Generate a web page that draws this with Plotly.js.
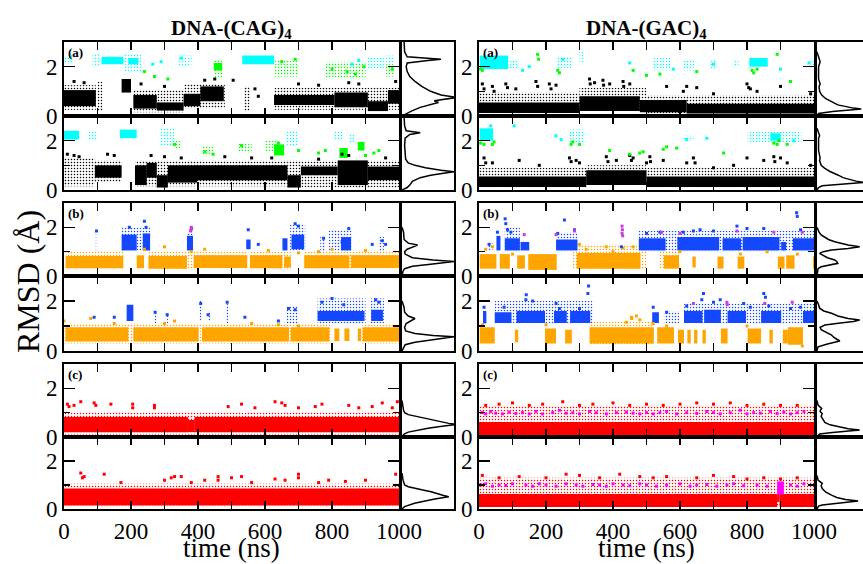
<!DOCTYPE html>
<html><head><meta charset="utf-8">
<script src="https://cdn.plot.ly/plotly-3.0.1.min.js"></script>
<style>body{margin:0;background:#fff}#chart{width:863px;height:564px}</style>
</head><body><div id="chart"></div>
<script>
// ---------------- DATA ----------------
// segments: [t0 (ns), t1 (ns), RMSD low, RMSD high]; points: [t (ns), RMSD]
const timeTicks = [0, 200, 400, 600, 800, 1000];
const timeTickText = ['0', '200', '400', '600', '800', '1000'];
const rmsdTicks = [0, 2];
const rmsdTickText = ['0', '2'];
const columnTitles = ['DNA-(CAG)<sub>4</sub>', 'DNA-(GAC)<sub>4</sub>'];
const panelLabels = ['(a)', '(b)', '(c)'];

// ===== DNA-(CAG)4, (a) top =====
const cagA1BlackDense = [[0,95,0.4,1.05],[172,200,0.95,1.5],[207,277,0.3,0.85],[277,357,0.22,0.55],[357,407,0.4,0.9],[407,477,0.6,1.2],[627,807,0.45,0.85],[807,907,0.35,0.95],[907,967,0.2,0.6],[967,1000,0.5,1.05]];
const cagA1BlackSparse = [[0,95,0.25,1.25],[100,115,0.2,1.4],[207,357,0.15,1.05],[357,480,0.3,1.3],[538,556,0.2,1.2],[627,1000,0.25,1.15]];
const cagA1CyanDense = [[112,177,2.1,2.4],[192,222,2.1,2.35],[532,627,2.1,2.45]];
const cagA1CyanSparse = [[0,25,2.1,2.4],[85,110,2.0,2.5],[177,230,1.8,2.5],[340,380,2.0,2.45],[905,955,1.9,2.4],[962,985,2.1,2.45]];
const cagA1GreenDense = [[447,472,1.85,2.15]];
const cagA1GreenSparse = [[447,475,1.5,2.3],[630,700,1.6,2.3],[780,900,1.5,2.2],[960,985,1.6,2.1]];
const cagA1BlackPts = [[505,1.45],[570,1.1],[580,0.8],[30,1.4],[60,1.35],[230,1.3],[300,1.2],[420,1.45],[450,1.5],[700,1.3],[760,1.25],[850,1.35],[880,1.3],[990,1.4]];
const cagA1CyanPts = [[20,2.4],[265,2.1],[290,2.2],[350,2.35],[860,2.1],[880,2.25]];
const cagA1GreenPts = [[240,1.8],[270,1.6],[310,1.5],[650,2.2],[690,2.3],[800,1.9],[845,1.8],[870,1.7],[895,2.0],[980,1.9]];

// ===== DNA-(CAG)4, (a) bottom =====
const cagA2BlackDense = [[92,172,0.5,1.0],[212,247,0.2,1.0],[247,277,0.5,1.1],[277,310,0.1,0.6],[310,397,0.3,1.0],[397,667,0.4,1.0],[667,707,0.1,0.6],[707,817,0.6,0.95],[817,907,0.2,1.2],[907,1000,0.4,0.95]];
const cagA2BlackSparse = [[0,92,0.15,1.3],[92,172,0.3,1.2],[212,667,0.15,1.2],[667,1000,0.1,1.2]];
const cagA2BlackPts = [[10,1.45],[30,1.4],[45,1.35],[130,1.45],[150,1.4],[260,1.4],[300,1.35],[350,1.3],[480,1.35],[560,1.3],[620,1.3],[760,1.25],[830,1.45],[850,1.4],[960,1.3]];
const cagA2CyanDense = [[0,45,2.05,2.4],[167,217,2.1,2.45]];
const cagA2CyanSparse = [[70,97,2.0,2.4],[285,330,1.8,2.5],[665,700,1.8,2.4],[805,830,2.0,2.4],[850,870,1.9,2.3]];
const cagA2GreenDense = [[627,657,1.4,1.85],[822,847,1.3,1.7],[877,897,1.6,1.95]];
const cagA2GreenSparse = [[330,350,1.7,2.0],[410,450,1.4,1.8],[520,560,1.5,1.9],[600,640,1.5,2.0]];
const cagA2GreenPts = [[330,1.85],[420,1.55],[445,1.45],[530,1.8],[640,1.9],[700,1.6],[760,1.5],[780,1.6],[900,1.4],[925,1.5],[940,1.6]];

// ===== DNA-(CAG)4, (b) top =====
const cagB1OrangeDense = [[5,177,0.32,0.82],[217,239,0.32,0.85],[252,367,0.3,0.82],[387,547,0.33,0.85],[555,652,0.32,0.85],[657,677,0.35,0.8],[717,852,0.32,0.85],[857,1002,0.33,0.85]];
const cagB1OrangeSparse = [[5,177,0.25,1.05],[252,547,0.25,1.05],[555,677,0.25,1.0],[717,1000,0.25,1.05]];
const cagB1BlueDense = [[172,217,1.05,1.7],[235,257,1.05,1.75],[367,385,1.05,1.65],[544,557,1.1,1.5],[652,667,1.05,1.55],[679,717,1.1,1.7],[827,857,1.05,1.6]];
const cagB1BlueSparse = [[95,100,1.0,1.85],[172,257,1.05,2.0],[367,387,1.0,1.8],[675,720,1.05,2.1],[765,780,1.0,1.65],[790,860,1.05,1.9],[940,955,1.0,1.6]];
const cagB1BluePts = [[97,1.85],[195,2.0],[240,2.25],[245,2.0],[550,1.9],[580,1.3],[690,2.15],[700,2.05],[775,1.55],[830,1.4],[850,1.95],[920,1.3],[950,1.45],[960,1.3]];
const cagB1VioletPts = [[378,1.85],[380,2.0],[381,1.95],[379,1.9]];
const cagB1OrangePts = [[240,1.1],[300,1.2],[380,1.0],[420,1.1],[610,1.05],[700,0.95],[760,1.0],[800,1.1],[900,1.05]];

// ===== DNA-(CAG)4, (b) bottom =====
const cagB2OrangeDense = [[5,192,0.38,0.95],[207,402,0.38,0.95],[412,672,0.38,0.95],[677,792,0.38,0.95],[807,822,0.4,0.9],[837,852,0.4,0.9],[877,887,0.4,0.9],[892,1002,0.38,0.95]];
const cagB2OrangeSparse = [[0,800,0.3,1.1],[890,1000,0.3,1.05]];
const cagB2BlueDense = [[187,207,1.2,1.85],[757,897,1.2,1.6],[917,952,1.2,1.65]];
const cagB2BlueSparse = [[270,275,1.1,1.6],[305,310,1.1,1.5],[405,410,1.2,2.0],[430,436,1.2,1.6],[485,490,1.1,2.0],[665,700,1.1,1.8],[757,900,1.1,2.1],[915,955,1.1,2.1]];
const cagB2BluePts = [[90,1.35],[150,1.35],[272,1.55],[308,1.45],[408,1.9],[430,1.45],[487,1.95],[540,1.35],[640,1.2],[670,1.7],[690,1.65],[770,1.95],[800,2.1],[835,1.85],[930,2.05],[940,1.95]];
const cagB2OrangePts = [[0,1.2],[80,1.3],[150,1.1],[300,1.1],[330,1.2],[560,1.1],[640,1.05],[700,1.0]];

// ===== DNA-(CAG)4, (c) =====
const cagC1RedDense = [[0,370,0.2,0.82],[370,390,0.2,0.7],[390,1000,0.2,0.82]];
const cagC1RedSparse = [[0,1000,0.1,1.05]];
const cagC1RedPts = [[10,1.35],[15,1.25],[30,1.3],[50,1.45],[90,1.4],[95,1.3],[140,1.35],[205,1.35],[205,1.2],[270,1.3],[270,1.2],[490,1.25],[530,1.35],[570,1.2],[630,1.45],[650,1.4],[660,1.3],[700,1.2],[750,1.25],[770,1.35],[850,1.3],[880,1.2],[920,1.25],[950,1.4],[980,1.2],[995,1.45]];
const cagC2RedDense = [[0,1000,0.15,0.85]];
const cagC2RedSparse = [[0,1000,0.08,1.05]];
const cagC2RedPts = [[50,1.5],[55,1.3],[60,1.35],[120,1.45],[170,1.1],[300,1.2],[320,1.3],[330,1.35],[350,1.35],[380,1.1],[420,1.2],[460,1.35],[460,1.2],[500,1.3],[530,1.35],[560,1.1],[630,1.25],[660,1.2],[700,1.45],[700,1.3],[760,1.1],[790,1.2],[840,1.15],[900,1.2],[990,1.45]];

// ===== DNA-(GAC)4, (a) top =====
const gacA1BlackDense = [[0,300,0.12,0.55],[300,480,0.2,0.8],[480,620,0.15,0.65],[620,1000,0.1,0.5]];
const gacA1BlackSparse = [[0,300,0.1,0.95],[300,500,0.2,1.15],[500,1000,0.1,0.85]];
const gacA1BlackPts = [[10,1.3],[15,1.1],[40,1.2],[45,1.0],[80,1.3],[85,1.15],[110,1.1],[170,1.4],[175,1.2],[210,1.3],[215,1.1],[230,1.25],[330,1.5],[332,1.3],[345,1.35],[370,1.45],[372,1.25],[390,1.3],[430,1.4],[432,1.2],[450,1.3],[560,1.2],[610,1.0],[620,1.2],[650,1.15],[700,0.9],[800,1.3],[805,1.15],[810,1.1],[830,1.0],[900,1.2],[990,0.9]];
const gacA1CyanDense = [[2,87,1.9,2.45],[807,862,2.0,2.35]];
const gacA1CyanSparse = [[87,115,1.9,2.3],[230,280,1.95,2.4],[300,312,2.1,2.6],[517,572,1.85,2.35],[612,642,1.85,2.3],[690,710,1.9,2.3],[760,775,2.0,2.3],[990,1002,2.0,2.3]];
const gacA1CyanPts = [[130,1.85],[150,2.0],[250,2.3],[450,2.15],[580,1.9],[700,2.1],[900,1.9],[985,2.15]];
const gacA1GreenPts = [[5,1.9],[10,1.85],[175,2.5],[178,2.3],[235,1.85],[240,1.75],[460,1.85],[500,1.65],[540,1.7],[650,1.8],[815,1.85],[820,1.75],[830,1.9],[890,2.5],[930,1.4]];

// ===== DNA-(GAC)4, (a) bottom =====
const gacA2BlackDense = [[0,320,0.12,0.55],[320,500,0.2,0.8],[500,1000,0.12,0.55]];
const gacA2BlackSparse = [[0,320,0.1,0.9],[320,500,0.2,1.0],[500,1000,0.1,0.9]];
const gacA2BlackPts = [[15,1.3],[20,1.1],[40,1.1],[120,1.2],[180,1.0],[270,1.3],[275,1.15],[290,1.2],[300,1.1],[380,1.35],[385,1.15],[410,1.2],[450,1.4],[455,1.2],[460,1.3],[500,1.1],[510,1.35],[512,1.15],[550,1.2],[620,1.1],[640,1.3],[645,1.1],[700,0.9],[760,1.0],[800,1.3],[850,1.2],[880,1.35],[883,1.15],[900,1.3],[920,1.1],[990,1.0]];
const gacA2CyanDense = [[2,42,2.0,2.5],[870,900,2.0,2.3]];
const gacA2CyanSparse = [[267,317,1.9,2.45],[605,640,2.0,2.2],[802,962,1.95,2.35]];
const gacA2CyanPts = [[35,2.6],[105,2.6],[230,2.2],[245,2.05],[620,2.05],[680,2.1],[940,2.0]];
const gacA2GreenPts = [[5,1.9],[15,1.85],[40,1.85],[45,1.95],[275,1.85],[280,1.95],[300,1.85],[390,1.6],[450,1.45],[480,1.5],[490,1.55],[550,1.65],[560,1.75],[590,1.7],[730,1.5],[880,1.9],[890,1.85],[895,2.0],[920,1.85]];

// ===== DNA-(GAC)4, (b) top =====
const gacB1OrangeDense = [[2,52,0.3,0.9],[62,92,0.3,0.9],[114,137,0.3,0.85],[147,232,0.25,0.9],[292,482,0.3,0.95],[552,597,0.3,0.85],[637,647,0.35,0.8],[712,730,0.3,0.8],[772,792,0.3,0.8],[892,912,0.3,0.8],[917,942,0.3,0.85],[997,1002,0.3,0.8]];
const gacB1OrangeSparse = [[280,500,0.25,1.3],[540,600,0.3,1.05]];
const gacB1OrangePts = [[20,1.1],[40,1.2],[100,0.9],[300,1.3],[320,1.1],[380,1.2],[400,1.0],[430,1.15],[460,1.2],[600,1.0],[780,0.9],[860,1.0],[950,0.9]];
const gacB1BlueDense = [[52,64,1.05,1.65],[77,122,1.05,1.55],[124,150,1.05,1.4],[230,294,1.05,1.5],[477,557,1.05,1.55],[592,717,1.05,1.6],[727,782,1.05,1.55],[787,897,1.05,1.6],[902,917,1.05,1.4],[937,1002,1.05,1.55]];
const gacB1BlueSparse = [[27,40,1.0,1.4],[77,122,1.0,2.0],[230,294,1.0,1.8],[477,1002,1.0,1.85]];
const gacB1BluePts = [[30,1.3],[55,1.8],[78,2.35],[80,2.15],[85,1.9],[95,1.8],[235,1.75],[255,2.3],[285,1.9],[425,1.2],[500,1.75],[540,1.8],[610,1.8],[640,1.85],[660,1.9],[700,1.85],[770,2.05],[800,1.95],[850,1.95],[948,2.6],[950,2.45],[960,1.9]];
const gacB1VioletPts = [[135,1.7],[230,1.7],[285,1.85],[427,1.75],[428,1.9],[427,2.05],[429,1.65],[545,1.8],[600,1.75],[770,1.85],[880,1.8],[965,1.8]];

// ===== DNA-(GAC)4, (b) bottom =====
const gacB2OrangeDense = [[2,47,0.3,0.95],[107,117,0.35,0.85],[197,230,0.3,0.9],[257,277,0.3,0.85],[330,522,0.3,0.95],[532,582,0.3,0.95],[594,612,0.3,0.85],[622,632,0.3,0.85],[642,652,0.3,0.85],[667,677,0.3,0.85],[722,742,0.3,0.9],[802,842,0.3,0.9],[867,877,0.3,0.85],[907,922,0.3,0.85],[922,967,0.25,0.95]];
const gacB2OrangeSparse = [[330,522,0.25,1.2]];
const gacB2OrangePts = [[10,1.05],[200,1.05],[440,1.15],[455,1.35],[456,1.3],[470,1.4],[480,1.25],[520,1.1],[560,1.0],[800,1.0],[965,0.2]];
const gacB2BlueDense = [[12,22,1.1,1.6],[47,97,1.12,1.55],[112,197,1.12,1.6],[224,262,1.12,1.6],[272,332,1.12,1.6],[517,537,1.12,1.55],[612,667,1.12,1.6],[672,722,1.12,1.65],[742,797,1.12,1.6],[842,902,1.12,1.6],[967,1002,1.12,1.6]];
const gacB2BlueSparse = [[47,340,1.1,2.0],[552,597,1.1,1.6],[612,1000,1.1,1.9]];
const gacB2BluePts = [[15,1.75],[75,1.75],[140,2.05],[141,2.25],[160,2.0],[230,1.9],[240,1.7],[300,1.7],[327,2.6],[325,2.3],[520,1.75],[560,1.55],[620,1.8],[665,2.05],[670,2.3],[700,1.95],[720,2.05],[790,1.9],[810,1.75],[850,2.3],[855,2.15],[865,1.8],[930,1.7],[960,1.75]];
const gacB2VioletPts = [[640,1.9],[740,1.95],[741,1.85],[853,1.9],[935,1.95]];

// ===== DNA-(GAC)4, (c) =====
const gacC1RedDense = [[0,1000,0.08,0.62]];
const gacC1RedSparse = [[0,1000,0.08,1.3]];
const gacC1RedPts = [[20,1.3],[60,1.35],[100,1.4],[150,1.3],[190,1.35],[250,1.45],[300,1.3],[340,1.35],[400,1.4],[450,1.3],[500,1.35],[550,1.3],[600,1.35],[650,1.4],[700,1.35],[750,1.4],[800,1.3],[850,1.35],[900,1.3],[950,1.3]];
const gacC1MagentaPts = [[10,1.0],[20,0.95],[35,1.05],[50,0.98],[70,0.95],[90,1.02],[110,0.97],[130,1.0],[150,0.95],[170,1.05],[190,0.95],[220,1.0],[240,1.1],[260,0.98],[280,1.0],[300,0.95],[330,1.05],[350,1.0],[380,0.95],[410,1.0],[440,1.02],[460,0.98],[480,0.95],[500,1.0],[520,0.95],[540,1.0],[560,1.05],[590,0.95],[620,1.0],[650,0.97],[680,1.05],[700,1.0],[720,0.95],[750,1.0],[780,1.1],[800,0.95],[820,1.0],[840,0.98],[870,1.05],[890,0.97],[910,1.02],[930,0.95],[950,1.0],[970,1.05]];
const gacC2RedDense = [[0,890,0.08,0.62],[890,897,0.3,0.62],[897,1000,0.08,0.62]];
const gacC2RedSparse = [[0,1000,0.08,1.3]];
const gacC2RedPts = [[10,1.4],[60,1.3],[120,1.35],[200,1.3],[260,1.45],[300,1.4],[360,1.3],[420,1.45],[480,1.35],[520,1.3],[560,1.35],[650,1.3],[700,1.4],[760,1.35],[800,1.25],[850,1.3],[900,1.25],[950,1.3]];
const gacC2MagentaDense = [[890,910,0.6,1.15]];
const gacC2MagentaPts = [[5,1.0],[20,1.05],[40,0.95],[60,1.0],[80,0.98],[100,1.05],[140,1.0],[160,0.95],[180,1.05],[200,1.0],[230,0.95],[260,1.05],[290,1.0],[310,0.95],[340,1.02],[360,1.0],[380,0.95],[400,1.05],[430,1.0],[450,0.97],[480,1.05],[500,1.0],[530,0.95],[560,1.0],[600,1.05],[630,0.95],[650,1.0],[680,1.02],[710,0.95],[740,1.0],[760,1.05],[790,0.97],[830,1.0],[860,0.95],[930,1.0],[950,0.95],[970,1.05]];

// ===== RMSD distributions (side panels): RMSD levels and relative density =====
const cagA1HistR = [0,0.1,0.2,0.35,0.45,0.55,0.62,0.7,0.75,0.85,1.0,1.2,1.4,1.6,1.8,2.0,2.15,2.25,2.3,2.4,2.6,3.0];
const cagA1HistD = [0,0.08,0.18,0.35,0.55,0.7,0.62,0.9,1.05,0.75,0.55,0.38,0.25,0.15,0.1,0.08,0.1,0.5,0.75,0.1,0.05,0.04];
const cagA2HistR = [0,0.1,0.2,0.35,0.5,0.6,0.68,0.74,0.8,0.9,1.0,1.1,1.25,1.5,1.8,2.1,2.25,2.32,2.4,2.6,3.0];
const cagA2HistD = [0,0.1,0.15,0.2,0.35,0.55,0.8,1.0,0.75,0.45,0.25,0.12,0.07,0.06,0.05,0.06,0.15,0.35,0.08,0.05,0.04];
const cagB1HistR = [0,0.2,0.3,0.4,0.48,0.55,0.6,0.66,0.75,0.9,1.0,1.1,1.2,1.27,1.35,1.5,1.8,2.0];
const cagB1HistD = [0,0.02,0.05,0.2,0.55,0.9,1.0,0.6,0.2,0.06,0.05,0.1,0.22,0.3,0.12,0.04,0.03,0];
const cagB2HistR = [0,0.15,0.25,0.35,0.45,0.52,0.57,0.62,0.7,0.8,0.95,1.1,1.2,1.3,1.4,1.55,1.75,2.0];
const cagB2HistD = [0,0.03,0.06,0.25,0.6,0.9,1.0,0.6,0.25,0.07,0.05,0.08,0.18,0.25,0.12,0.05,0.04,0];
const cagC1HistR = [0,0.12,0.2,0.29,0.36,0.42,0.48,0.52,0.56,0.63,0.7,0.77,0.85,0.92,1.0,1.1,1.5];
const cagC1HistD = [0,0.04,0.12,0.3,0.5,0.7,0.9,1.05,0.9,0.75,0.6,0.44,0.25,0.12,0.05,0.03,0];
const cagC2HistR = [0,0.1,0.24,0.35,0.42,0.47,0.51,0.56,0.64,0.72,0.8,0.86,0.93,1.0,1.2,1.5];
const cagC2HistD = [0,0.05,0.24,0.45,0.63,0.78,0.9,0.8,0.68,0.56,0.38,0.24,0.12,0.05,0.02,0];
const gacA1HistR = [0,0.1,0.18,0.24,0.28,0.32,0.38,0.45,0.58,0.7,0.85,1.0,1.2,1.3,1.5,2.0,2.2,2.3,2.4,2.6];
const gacA1HistD = [0,0.03,0.3,0.65,0.85,0.7,0.53,0.4,0.28,0.17,0.09,0.05,0.04,0.06,0.03,0.03,0.06,0.05,0.03,0];
const gacA2HistR = [0,0.1,0.17,0.24,0.31,0.36,0.41,0.5,0.61,0.75,0.88,1.0,1.2,1.3,1.6,2.1,2.2,2.3,2.5];
const gacA2HistD = [0,0.03,0.1,0.5,0.9,0.75,0.66,0.5,0.4,0.25,0.15,0.08,0.05,0.06,0.03,0.03,0.05,0.03,0];
const gacB1HistR = [0,0.3,0.38,0.45,0.52,0.6,0.66,0.75,0.85,0.93,1.0,1.07,1.13,1.2,1.27,1.35,1.41,1.5,1.6,1.69,1.8,2.0];
const gacB1HistD = [0,0.02,0.08,0.25,0.4,0.38,0.34,0.2,0.1,0.05,0.12,0.28,0.6,0.82,0.6,0.42,0.34,0.22,0.13,0.08,0.04,0];
const gacB2HistR = [0,0.17,0.28,0.35,0.4,0.47,0.55,0.64,0.75,0.85,0.95,1.04,1.12,1.18,1.24,1.3,1.4,1.51,1.6,1.71,1.85,2.0];
const gacB2HistD = [0,0.02,0.2,0.38,0.44,0.38,0.32,0.28,0.18,0.08,0.06,0.15,0.45,0.7,0.82,0.6,0.4,0.28,0.13,0.05,0.03,0];
const gacC1HistR = [0,0.12,0.18,0.24,0.29,0.34,0.42,0.5,0.6,0.75,0.85,0.97,1.05,1.12,1.18,1.25,1.31,1.5];
const gacC1HistD = [0,0.05,0.3,0.65,0.82,0.6,0.4,0.25,0.15,0.1,0.08,0.1,0.06,0.07,0.09,0.05,0.02,0];
const gacC2HistR = [0,0.12,0.17,0.25,0.33,0.4,0.48,0.58,0.7,0.85,0.97,1.07,1.15,1.21,1.4];
const gacC2HistD = [0,0.03,0.1,0.45,0.79,0.55,0.38,0.28,0.17,0.1,0.08,0.1,0.06,0.02,0];

// ---------------- STYLE / LAYOUT ----------------
const W = 863, H = 564;
const C = {black:'#000000', cyan:'#00ffff', green:'#00ff00', orange:'#ffa500', blue:'#1448ff', violet:'#c83ce0', red:'#ff0000', magenta:'#ff00ff'};
const rowsPx = [[42,116],[116,190],[203,276],[276,351],[364,437],[437,509]];
const mainXPx = [[64,399],[479,814]];
const histXPx = [[402,454],[817,863]];
const FONT = '"Liberation Serif", serif';

const panels = [
  [0,0,[[cagA1BlackSparse,C.black,1],[cagA1BlackDense,C.black,0],[cagA1CyanSparse,C.cyan,1],[cagA1CyanDense,C.cyan,0],[cagA1GreenSparse,C.green,1],[cagA1GreenDense,C.green,0]],[[cagA1BlackPts,C.black],[cagA1CyanPts,C.cyan],[cagA1GreenPts,C.green]],cagA1HistR,cagA1HistD],
  [0,1,[[cagA2BlackSparse,C.black,1],[cagA2BlackDense,C.black,0],[cagA2CyanSparse,C.cyan,1],[cagA2CyanDense,C.cyan,0],[cagA2GreenSparse,C.green,1],[cagA2GreenDense,C.green,0]],[[cagA2BlackPts,C.black],[cagA2GreenPts,C.green]],cagA2HistR,cagA2HistD],
  [0,2,[[cagB1OrangeSparse,C.orange,1],[cagB1OrangeDense,C.orange,0],[cagB1BlueSparse,C.blue,1],[cagB1BlueDense,C.blue,0]],[[cagB1OrangePts,C.orange],[cagB1BluePts,C.blue],[cagB1VioletPts,C.violet]],cagB1HistR,cagB1HistD],
  [0,3,[[cagB2OrangeSparse,C.orange,1],[cagB2OrangeDense,C.orange,0],[cagB2BlueSparse,C.blue,1],[cagB2BlueDense,C.blue,0]],[[cagB2OrangePts,C.orange],[cagB2BluePts,C.blue]],cagB2HistR,cagB2HistD],
  [0,4,[[cagC1RedSparse,C.red,1],[cagC1RedDense,C.red,0]],[[cagC1RedPts,C.red]],cagC1HistR,cagC1HistD],
  [0,5,[[cagC2RedSparse,C.red,1],[cagC2RedDense,C.red,0]],[[cagC2RedPts,C.red]],cagC2HistR,cagC2HistD],
  [1,0,[[gacA1BlackSparse,C.black,1],[gacA1BlackDense,C.black,0],[gacA1CyanSparse,C.cyan,1],[gacA1CyanDense,C.cyan,0]],[[gacA1BlackPts,C.black],[gacA1CyanPts,C.cyan],[gacA1GreenPts,C.green]],gacA1HistR,gacA1HistD],
  [1,1,[[gacA2BlackSparse,C.black,1],[gacA2BlackDense,C.black,0],[gacA2CyanSparse,C.cyan,1],[gacA2CyanDense,C.cyan,0]],[[gacA2BlackPts,C.black],[gacA2CyanPts,C.cyan],[gacA2GreenPts,C.green]],gacA2HistR,gacA2HistD],
  [1,2,[[gacB1OrangeSparse,C.orange,1],[gacB1OrangeDense,C.orange,0],[gacB1BlueSparse,C.blue,1],[gacB1BlueDense,C.blue,0]],[[gacB1OrangePts,C.orange],[gacB1BluePts,C.blue],[gacB1VioletPts,C.violet]],gacB1HistR,gacB1HistD],
  [1,3,[[gacB2OrangeSparse,C.orange,1],[gacB2OrangeDense,C.orange,0],[gacB2BlueSparse,C.blue,1],[gacB2BlueDense,C.blue,0]],[[gacB2OrangePts,C.orange],[gacB2BluePts,C.blue],[gacB2VioletPts,C.violet]],gacB2HistR,gacB2HistD],
  [1,4,[[gacC1RedSparse,C.red,1],[gacC1RedDense,C.red,0]],[[gacC1RedPts,C.red],[gacC1MagentaPts,C.magenta]],gacC1HistR,gacC1HistD],
  [1,5,[[gacC2RedSparse,C.red,1],[gacC2RedDense,C.red,0],[gacC2MagentaDense,C.magenta,0]],[[gacC2RedPts,C.red],[gacC2MagentaPts,C.magenta]],gacC2HistR,gacC2HistD]
];

const traces = [];
const layout = {
  width: W, height: H, margin: {l:0, r:0, t:0, b:0},
  paper_bgcolor: '#fff', plot_bgcolor: 'rgba(0,0,0,0)',
  showlegend: false, barmode: 'overlay', hovermode: false,
  font: {family: FONT, color: '#000', size: 22},
  annotations: []
};

panels.forEach((p, i) => {
  const [col, row, bands, pts, hr, hd] = p;
  const mi = i + 1, hi = i + 13;
  const xa = 'x' + mi, ya = 'y' + mi, hxa = 'x' + hi, hya = 'y' + hi;
  const yd = [1 - rowsPx[row][1] / H, 1 - rowsPx[row][0] / H];
  bands.forEach(([segs, color, sparse]) => {
    const marker = sparse
      ? {color: color, line: {width: 0}, pattern: {shape: '.', size: 3, solidity: 0.2, fgcolor: color, bgcolor: 'rgba(0,0,0,0)', fillmode: 'replace'}}
      : {color: color, line: {width: 0}};
    traces.push({type: 'bar', xaxis: xa, yaxis: ya,
      x: segs.map(s => s[0]), width: segs.map(s => s[1] - s[0]), offset: 0,
      base: segs.map(s => s[2]), y: segs.map(s => s[3] - s[2]),
      marker: marker, hoverinfo: 'skip'});
  });
  pts.forEach(([arr, color]) => {
    traces.push({type: 'scatter', mode: 'markers', xaxis: xa, yaxis: ya,
      x: arr.map(a => a[0]), y: arr.map(a => a[1]),
      marker: {color: color, size: 3, symbol: 'square'}, cliponaxis: true});
  });
  traces.push({type: 'scatter', mode: 'lines', xaxis: hxa, yaxis: hya,
    x: hd, y: hr, line: {color: '#000', width: 1.5}});

  const bottom = row === 5;
  layout['xaxis' + mi] = {
    domain: [mainXPx[col][0] / W, mainXPx[col][1] / W], anchor: ya,
    range: [0, 1000], tickmode: 'array', tickvals: timeTicks, ticktext: timeTickText,
    showticklabels: bottom, ticks: 'inside', ticklen: 8, tickwidth: 1.5, tickcolor: '#000',
    minor: {dtick: 100, ticks: 'inside', ticklen: 8, tickwidth: 1.5, tickcolor: '#000'},
    showline: true, linewidth: 2, linecolor: '#000', mirror: 'ticks',
    showgrid: false, zeroline: false, fixedrange: true,
    tickfont: {family: FONT, size: 23, color: '#000'}
  };
  layout['yaxis' + mi] = {
    domain: yd, anchor: xa, range: [0, 3],
    tickmode: 'array', tickvals: rmsdTicks, ticktext: rmsdTickText, showticklabels: true,
    ticks: 'inside', ticklen: 11, tickwidth: 1.5, tickcolor: '#000',
    minor: {dtick: 1, ticks: 'inside', ticklen: 6, tickwidth: 1.5, tickcolor: '#000'},
    showline: true, linewidth: 2, linecolor: '#000', mirror: 'ticks',
    showgrid: false, zeroline: false, fixedrange: true,
    tickfont: {family: FONT, size: 23, color: '#000'}
  };
  const hx0 = histXPx[col][0], hx1 = histXPx[col][1];
  layout['xaxis' + hi] = {
    domain: [hx0 / W, hx1 / W], anchor: hya,
    range: [0, (hx1 - hx0) / 52], showticklabels: false, ticks: '',
    showline: true, linewidth: 2, linecolor: '#000', mirror: true,
    showgrid: false, zeroline: false, fixedrange: true
  };
  layout['yaxis' + hi] = {
    domain: yd, anchor: hxa, range: [0, 3], showticklabels: false, ticks: '',
    showline: true, linewidth: 2, linecolor: '#000', mirror: col === 0,
    showgrid: false, zeroline: false, fixedrange: true
  };
  if (row % 2 === 0) {
    layout.annotations.push({xref: 'paper', yref: 'paper',
      x: (mainXPx[col][0] + 2) / W, y: 1 - (rowsPx[row][0] + 1) / H,
      xanchor: 'left', yanchor: 'top', showarrow: false,
      text: '<b>' + panelLabels[row / 2] + '</b>', font: {family: FONT, size: 13, color: '#000'}});
  }
});

[0, 1].forEach(col => {
  const cx = (mainXPx[col][0] + mainXPx[col][1]) / 2 / W;
  layout.annotations.push({xref: 'paper', yref: 'paper', x: cx, y: 1 - 44 / H,
    xanchor: 'center', yanchor: 'bottom', showarrow: false,
    text: '<b>' + columnTitles[col] + '</b>', font: {family: FONT, size: 21, color: '#000'}});
  layout.annotations.push({xref: 'paper', yref: 'paper', x: cx, y: 0,
    xanchor: 'center', yanchor: 'bottom', showarrow: false, borderpad: 0,
    text: 'time (ns)', font: {family: FONT, size: 27, color: '#000'}});
});
layout.annotations.push({xref: 'paper', yref: 'paper', x: 28 / W, y: 1 - 282 / H,
  xanchor: 'center', yanchor: 'middle', showarrow: false, textangle: -90,
  text: 'RMSD (Å)', font: {family: FONT, size: 32, color: '#000'}});

Plotly.newPlot('chart', traces, layout, {displayModeBar: false, staticPlot: true});
</script></body></html>
